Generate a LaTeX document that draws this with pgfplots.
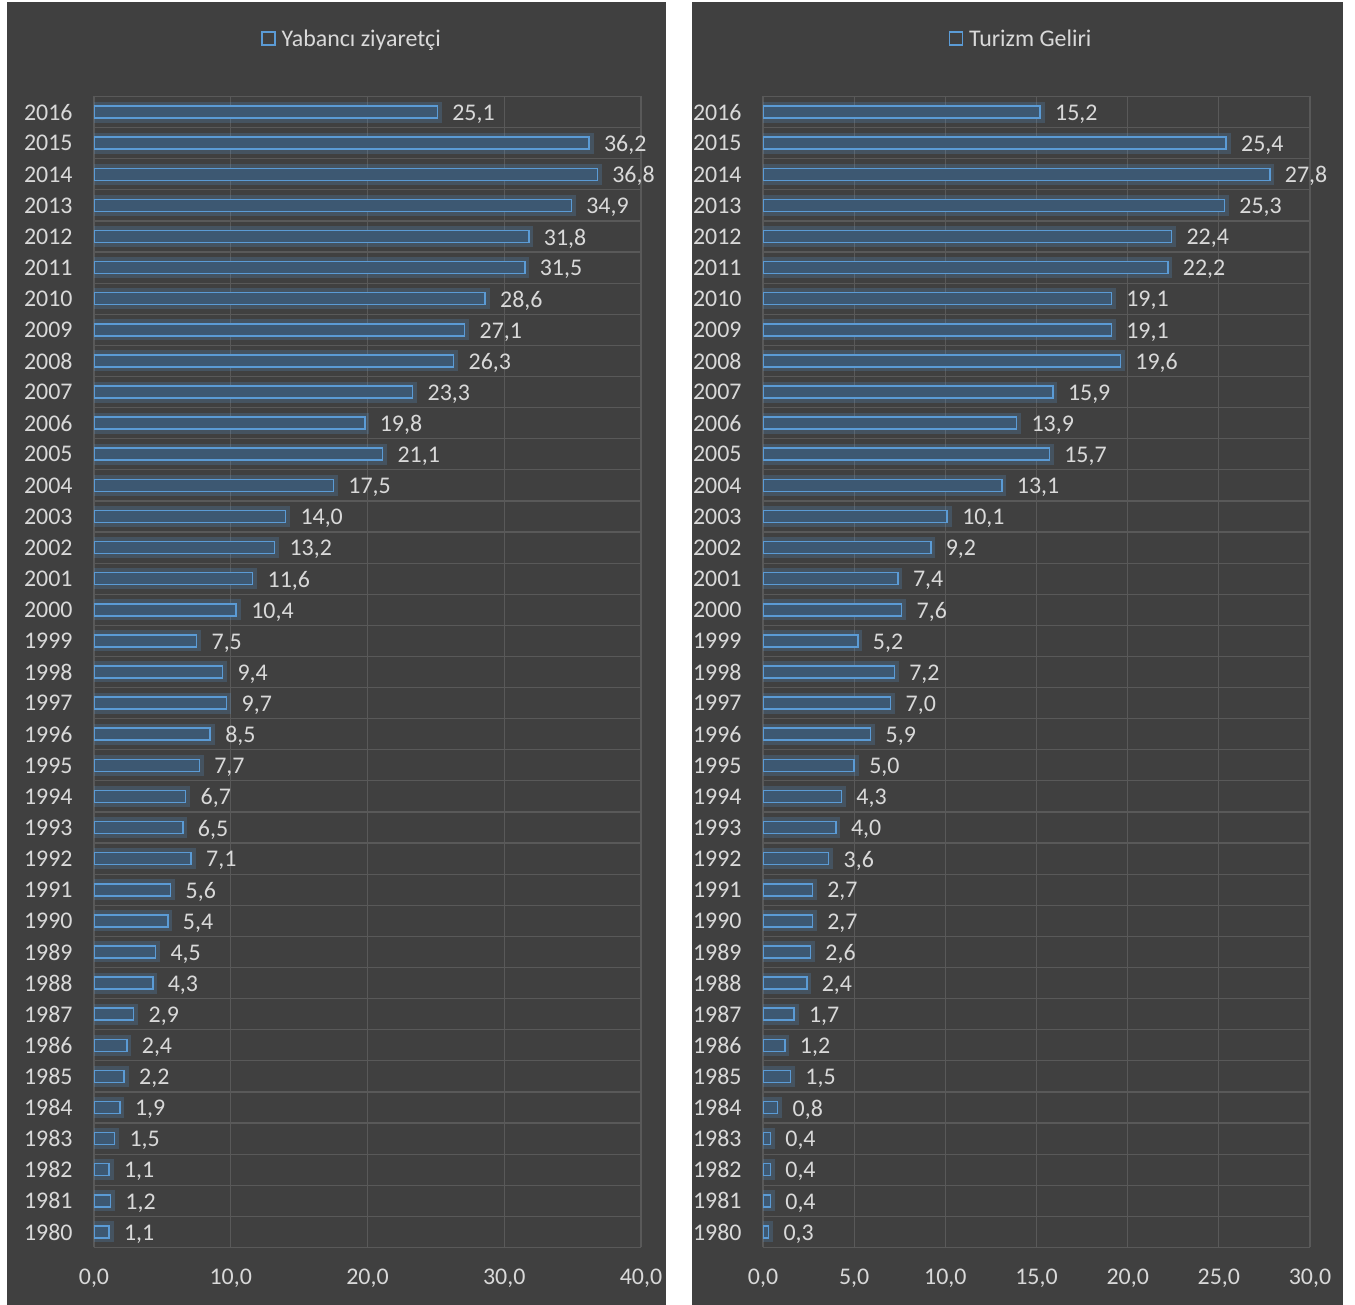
\documentclass[border=0pt]{standalone}
\usepackage{pgfplots}
\pgfplotsset{compat=1.18}
\usepackage{fontspec}
\setmainfont{Carlito}
\definecolor{panelbg}{HTML}{404040}
\definecolor{gridgray}{HTML}{595959}
\definecolor{txtgray}{HTML}{D9D9D9}
\definecolor{barline}{HTML}{5B9BD5}
\definecolor{barfill}{HTML}{3D5872}

\pgfplotsset{
  panel/.style={
    scale only axis, width=547bp, height=1151bp,
    xbar, bar width=12bp,
    ymin=1979.5, ymax=2016.5, xmin=0,
    ytick={1980,...,2016},
    minor ytick={1979.5,1980.5,...,2016.5},
    ymajorgrids=false, yminorgrids=true, xmajorgrids=true,
    grid style={gridgray, line width=1.2bp},
    minor grid style={gridgray, line width=1.2bp},
    axis line style={draw=none},
    major tick length=0pt, minor tick length=0pt,
    /pgf/number format/assume math mode=true,
    yticklabel style={font=\fontsize{24}{26}\selectfont, text=txtgray, /pgf/number format/1000 sep={}, xshift=-18bp},
    xticklabel style={font=\fontsize{24}{26}\selectfont, text=txtgray, /pgf/number format/fixed, /pgf/number format/fixed zerofill, /pgf/number format/precision=1, /pgf/number format/use comma, yshift=-18bp},
    nodes near coords,
    nodes near coords style={font=\fontsize{24}{26}\selectfont, text=txtgray, xshift=11bp, yshift=-2bp,
      /pgf/number format/fixed, /pgf/number format/fixed zerofill, /pgf/number format/precision=1, /pgf/number format/use comma},
    legend style={at={(0.4717,1.05)}, anchor=center, draw=none, fill=none,
      font=\fontsize{24}{26}\selectfont, text=txtgray},
    legend image code/.code={\draw[barline, line width=1.5bp, fill=none] (0bp,-6bp) rectangle (13bp,7bp);},
  },
  barstyle/.style={draw=barline, fill=barfill, line width=1.5bp},
  glowstyle/.style={draw=barline, draw opacity=0.22, fill=none, line width=9bp, forget plot, nodes near coords={}},
}

\begin{document}
\begin{tikzpicture}[x=1bp, y=1bp]
\useasboundingbox (0,0) rectangle (1355,1305);
\fill[white] (0,0) rectangle (1355,1305);
\fill[panelbg] (7,0) rectangle (666,1303);
\fill[panelbg] (692,0) rectangle (1343,1303);

\begin{axis}[panel, at={(94bp,57.5bp)}, anchor=south west, xmax=40, xtick={0,10,20,30,40}]
\addplot[glowstyle] coordinates {
(1.1,1980) (1.2,1981) (1.1,1982) (1.5,1983) (1.9,1984) (2.2,1985) (2.4,1986) (2.9,1987)
(4.3,1988) (4.5,1989) (5.4,1990) (5.6,1991) (7.1,1992) (6.5,1993) (6.7,1994) (7.7,1995)
(8.5,1996) (9.7,1997) (9.4,1998) (7.5,1999) (10.4,2000) (11.6,2001) (13.2,2002) (14.0,2003)
(17.5,2004) (21.1,2005) (19.8,2006) (23.3,2007) (26.3,2008) (27.1,2009) (28.6,2010)
(31.5,2011) (31.8,2012) (34.9,2013) (36.8,2014) (36.2,2015) (25.1,2016)};
\addplot[barstyle] coordinates {
(1.1,1980) (1.2,1981) (1.1,1982) (1.5,1983) (1.9,1984) (2.2,1985) (2.4,1986) (2.9,1987)
(4.3,1988) (4.5,1989) (5.4,1990) (5.6,1991) (7.1,1992) (6.5,1993) (6.7,1994) (7.7,1995)
(8.5,1996) (9.7,1997) (9.4,1998) (7.5,1999) (10.4,2000) (11.6,2001) (13.2,2002) (14.0,2003)
(17.5,2004) (21.1,2005) (19.8,2006) (23.3,2007) (26.3,2008) (27.1,2009) (28.6,2010)
(31.5,2011) (31.8,2012) (34.9,2013) (36.8,2014) (36.2,2015) (25.1,2016)};
\legend{\,Yabancı ziyaretçi}
\end{axis}

\begin{axis}[panel, at={(763bp,57.5bp)}, anchor=south west, xmax=30, xtick={0,5,10,15,20,25,30}]
\addplot[glowstyle] coordinates {
(0.3,1980) (0.4,1981) (0.4,1982) (0.4,1983) (0.8,1984) (1.5,1985) (1.2,1986) (1.7,1987)
(2.4,1988) (2.6,1989) (2.7,1990) (2.7,1991) (3.6,1992) (4.0,1993) (4.3,1994) (5.0,1995)
(5.9,1996) (7.0,1997) (7.2,1998) (5.2,1999) (7.6,2000) (7.4,2001) (9.2,2002) (10.1,2003)
(13.1,2004) (15.7,2005) (13.9,2006) (15.9,2007) (19.6,2008) (19.1,2009) (19.1,2010)
(22.2,2011) (22.4,2012) (25.3,2013) (27.8,2014) (25.4,2015) (15.2,2016)};
\addplot[barstyle] coordinates {
(0.3,1980) (0.4,1981) (0.4,1982) (0.4,1983) (0.8,1984) (1.5,1985) (1.2,1986) (1.7,1987)
(2.4,1988) (2.6,1989) (2.7,1990) (2.7,1991) (3.6,1992) (4.0,1993) (4.3,1994) (5.0,1995)
(5.9,1996) (7.0,1997) (7.2,1998) (5.2,1999) (7.6,2000) (7.4,2001) (9.2,2002) (10.1,2003)
(13.1,2004) (15.7,2005) (13.9,2006) (15.9,2007) (19.6,2008) (19.1,2009) (19.1,2010)
(22.2,2011) (22.4,2012) (25.3,2013) (27.8,2014) (25.4,2015) (15.2,2016)};
\legend{\,Turizm Geliri}
\end{axis}
\end{tikzpicture}
\end{document}
